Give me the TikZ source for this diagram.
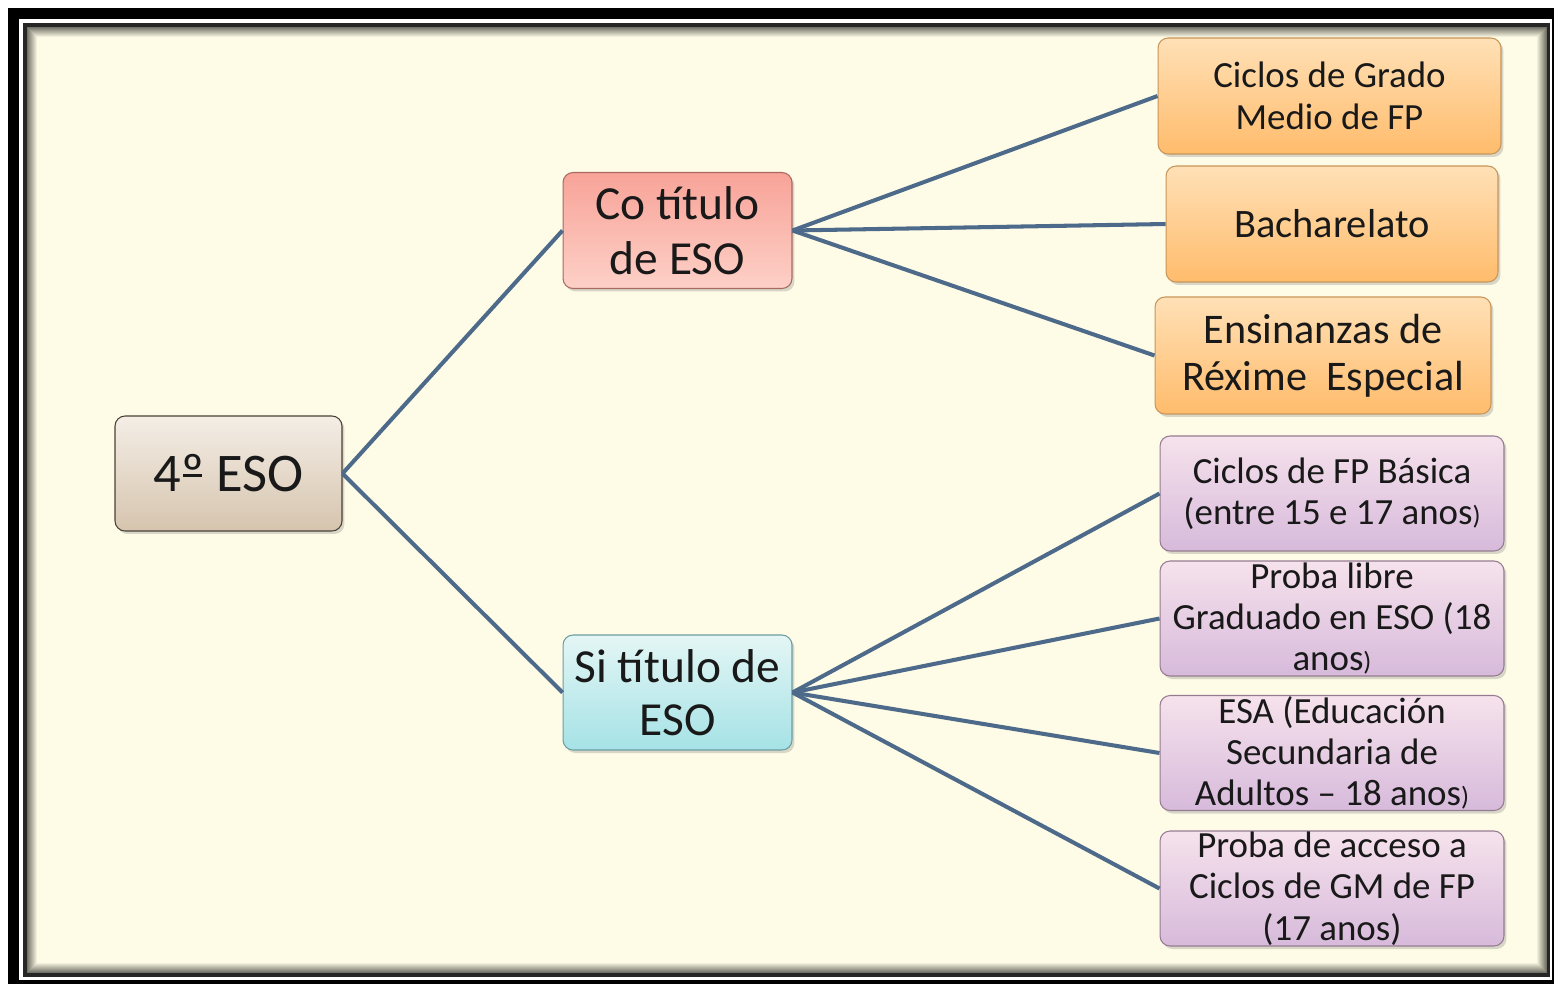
\documentclass[tikz,border=0pt]{standalone}
\usepackage{fontspec}
\setmainfont{Carlito}
\usetikzlibrary{shadows}

\definecolor{cream}{HTML}{FEFCE6}
\definecolor{linkblue}{HTML}{4E6A8A}
\definecolor{esotop}{HTML}{F4EEE6}
\definecolor{esobot}{HTML}{D6C4AE}
\definecolor{esoline}{HTML}{4A4038}
\definecolor{contop}{HTML}{F8A398}
\definecolor{conbot}{HTML}{FDD0C7}
\definecolor{conline}{HTML}{A86A62}
\definecolor{sentop}{HTML}{E4F6F5}
\definecolor{senbot}{HTML}{A5E2E6}
\definecolor{senline}{HTML}{6C9EA3}
\definecolor{ortop}{HTML}{FFE0B6}
\definecolor{orbot}{HTML}{FFBC6C}
\definecolor{orline}{HTML}{C8955A}
\definecolor{liltop}{HTML}{F6E2EC}
\definecolor{lilbot}{HTML}{D7BADB}
\definecolor{lilline}{HTML}{957C92}
\newcommand{\smallclose}{{\fontsize{15}{15}\selectfont)}}
\newcommand{\ordo}{{\ooalign{º\cr\hidewidth\raisebox{0.27em}{\rule{0.34em}{0.055em}}\hidewidth\cr}}}

\begin{document}
\begin{tikzpicture}[x=0.02cm,y=-0.02cm,
   box/.style={draw,rounded corners=0.2cm,align=center,inner sep=0pt,
      line width=0.6pt,text=black!90,
      drop shadow={opacity=0.3,shadow xshift=0.05cm,shadow yshift=-0.06cm}},
   esobox/.style={box,top color=esotop,bottom color=esobot,draw=esoline,
      minimum width=4.54cm,minimum height=2.3cm,font=\fontsize{31}{35}\selectfont},
   conbox/.style={box,top color=contop,bottom color=conbot,draw=conline,
      minimum width=4.58cm,minimum height=2.32cm,font=\fontsize{27}{31}\selectfont},
   senbox/.style={box,top color=sentop,bottom color=senbot,draw=senline,
      minimum width=4.58cm,minimum height=2.3cm,font=\fontsize{27}{30}\selectfont},
   orbox/.style={box,top color=ortop,bottom color=orbot,draw=orline,
      minimum height=2.32cm,font=\fontsize{21}{24}\selectfont},
   lilbox/.style={box,top color=liltop,bottom color=lilbot,draw=lilline,
      minimum width=6.88cm,minimum height=2.3cm,font=\fontsize{21}{23.5}\selectfont},
   link/.style={draw=linkblue,line width=2.3pt}]

\useasboundingbox (0,0) rectangle (1554,984);

% frame
\fill[black] (8,8) rectangle (1554,984);
\fill[white] (19,19) rectangle (1552,980);
\fill[black!85] (23,23) rectangle (1550,977);
\fill[cream] (27,27) rectangle (1547,973);
\foreach \i in {0,...,9}{
	\pgfmathtruncatemacro{\pct}{55-5.5*\i}
	\draw[black!\pct!cream,line width=0.6pt] (27.5+\i,27.5+\i) rectangle (1546.5-\i,972.5-\i);
}

\node[esobox] (eso) at (228.5,473.5) {4\ordo{} ESO};
\node[conbox] (con) at (677.5,230.5) {Co título\\de ESO};
\node[senbox] (sen) at (677.5,692.5) {Si título de\\ESO};

\node[orbox,minimum width=6.86cm] (cgm) at (1329.5,96) {Ciclos de Grado\\Medio de FP};
\node[orbox,minimum width=6.64cm,font=\fontsize{23}{26}\selectfont] (bach) at (1332,224) {Bacharelato};
\node[orbox,minimum width=6.72cm,minimum height=2.34cm,font=\fontsize{24}{27}\selectfont] (ere) at (1323,355.5) {Ensinanzas de\\Réxime~ Especial};

\node[lilbox] (fpb) at (1332,493.5) {Ciclos de FP Básica\\(entre 15 e 17 anos\smallclose};
\node[lilbox] (plg) at (1332,618.5) {Proba libre\\Graduado en ESO (18\\anos\smallclose};
\node[lilbox] (esa) at (1332,753) {ESA (Educación\\Secundaria de\\Adultos -- 18 anos\smallclose};
\node[lilbox] (pgm) at (1332,888.5) {Proba de acceso a\\Ciclos de GM de FP\\(17 anos)};

\draw[link] (eso.east) -- (con.west);
\draw[link] (eso.east) -- (sen.west);
\draw[link] (con.east) -- (cgm.west);
\draw[link] (con.east) -- (bach.west);
\draw[link] (con.east) -- (ere.west);
\draw[link] (sen.east) -- (fpb.west);
\draw[link] (sen.east) -- (plg.west);
\draw[link] (sen.east) -- (esa.west);
\draw[link] (sen.east) -- (pgm.west);

\end{tikzpicture}
\end{document}
